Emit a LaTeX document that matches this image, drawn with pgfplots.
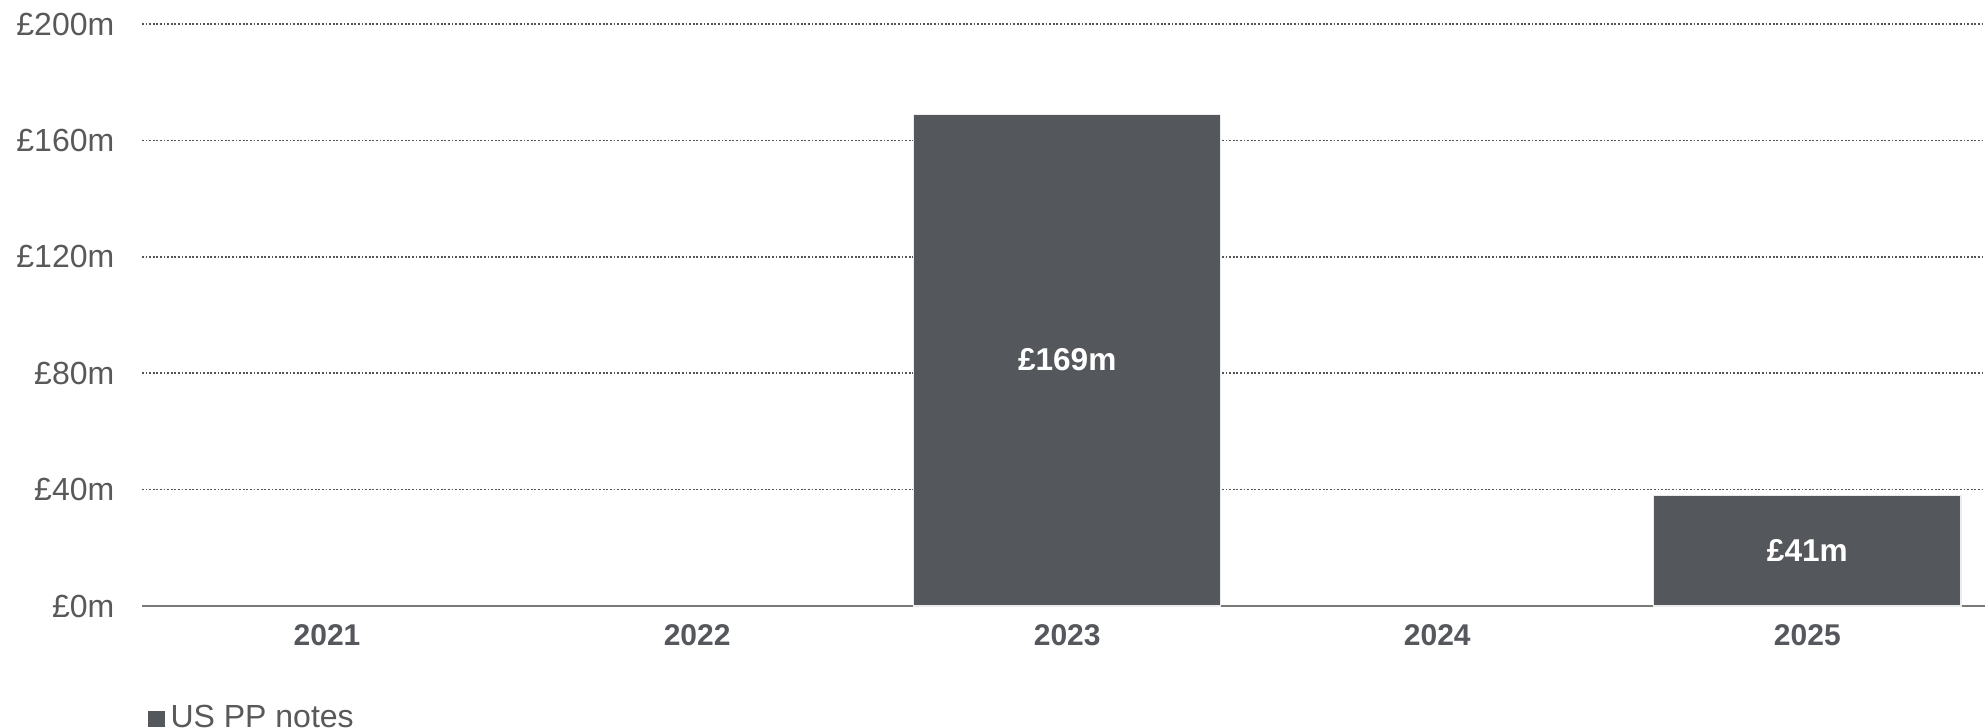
\documentclass[border=0pt]{standalone}
\usepackage{pgfplots}
\pgfplotsset{compat=1.18}
\usepackage{pgfplotstable}
\usepackage{fontspec}
\setmainfont{Liberation Sans}
\definecolor{barc}{HTML}{54575C}
\definecolor{txt}{HTML}{595959}
\definecolor{yr}{HTML}{54575C}
\definecolor{gridc}{HTML}{555555}
\pgfplotstableread{
x y lab
2 169 {£169m}
4 38 {£41m}
}\usppdata
\begin{document}
\begin{tikzpicture}
\begin{axis}[
  at={(0,0)}, anchor=south west,
  scale only axis,
  width=460.75pt, height=145.5pt,
  xmin=-0.5, xmax=4.48,
  ymin=0, ymax=200,
  xtick={0,1,2,3,4},
  xticklabels={2021,2022,2023,2024,2025},
  ytick={0,40,80,120,160,200},
  yticklabels={£0m,£40m,£80m,£120m,£160m,£200m},
  major tick length=0pt,
  axis x line*=bottom,
  axis y line*=left,
  y axis line style={draw=none},
  x axis line style={draw=txt!80, line width=0.5pt, -},
  ymajorgrids,
  grid style={draw=gridc, line width=0.4pt, dash pattern=on 0.45pt off 0.45pt},
  yticklabel style={text=txt, xshift=-3.4pt, font=\fontsize{8}{9}\selectfont},
  xticklabel style={text=yr, font=\fontsize{7.5}{9}\selectfont\bfseries, yshift=-1.2pt},
  ybar, bar width=0.83,
  legend style={at={(0.003,-0.194)}, anchor=west, draw=none, fill=none,
    inner sep=0pt, font=\fontsize{8}{9}\selectfont, text=txt,
    nodes={inner sep=1.5pt}},
  legend image code/.code={\fill[barc] (0pt,-1.875pt) rectangle (3.75pt,1.875pt);},
  clip=false,
]
\addplot[fill=barc, draw=white!85!gray, line width=0.3pt,
  point meta=explicit symbolic,
  nodes near coords,
  visualization depends on=y \as \rawy,
  nodes near coords style={anchor=center, text=white,
    font=\fontsize{7.9}{9}\selectfont\bfseries,
    shift={(axis direction cs:0,-\rawy/2)}},
] table[x=x, y=y, meta=lab] {\usppdata};
\addlegendentry{US PP notes}
\end{axis}
\pgfresetboundingbox
\path (-35.5pt,-30.5pt) rectangle (460.75pt,151.5pt);
\end{tikzpicture}
\end{document}
